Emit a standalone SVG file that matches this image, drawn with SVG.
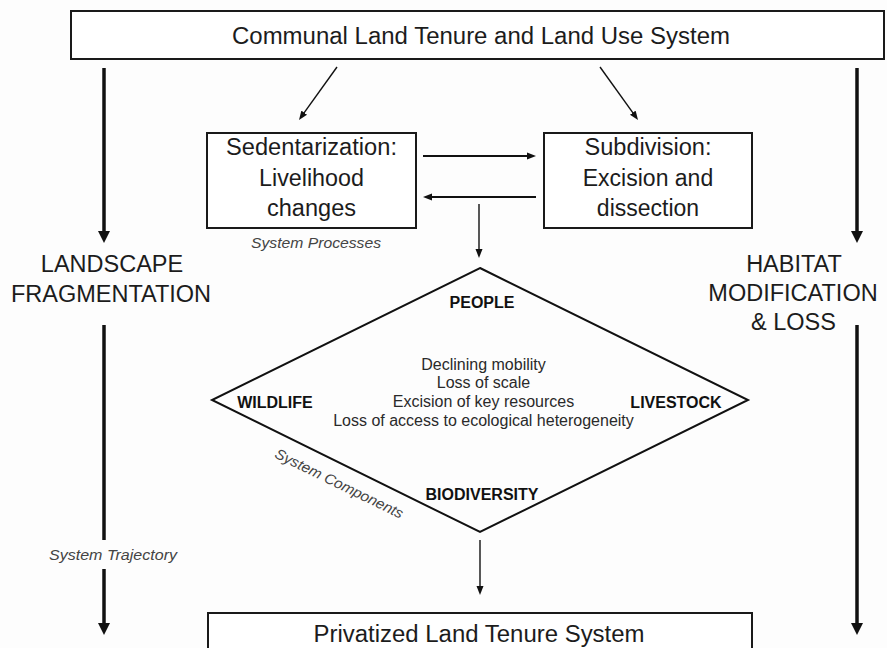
<svg xmlns="http://www.w3.org/2000/svg" width="887" height="648" viewBox="0 0 887 648">
<style>
.box{fill:#fff;stroke:#1a1a1a;stroke-width:2}
.t{font-family:"Liberation Sans",Arial,sans-serif;fill:#1c1c1c;text-anchor:middle}
.big{font-size:23px}
.side{font-size:23.5px}
.lab{font-size:16px;font-weight:bold;fill:#111}
.mid{font-size:16px;fill:#2a2a2a}
.it{font-size:14.5px;font-style:italic;fill:#444}
.thick{stroke:#111;stroke-width:3.5;fill:none}
.thin{stroke:#111;stroke-width:1.4;fill:none}
.med{stroke:#111;stroke-width:2;fill:none}
</style>
<defs>
<marker id="ah" markerUnits="userSpaceOnUse" markerWidth="12" markerHeight="12" viewBox="0 0 12 12" refX="4" refY="6" orient="auto"><path d="M0,0 L12,6 L0,12 z" fill="#111"/></marker>
<marker id="as" markerUnits="userSpaceOnUse" markerWidth="9" markerHeight="8" viewBox="0 0 9 8" refX="4" refY="4" orient="auto"><path d="M0,0.5 L9,4 L0,7.5 z" fill="#111"/></marker>
</defs>
<rect width="887" height="648" fill="#fdfdfd"/>

<g id="top">
<rect class="box" x="71" y="11" width="813" height="48"/>
<text class="t big" x="481" y="44" textLength="498" lengthAdjust="spacingAndGlyphs">Communal Land Tenure and Land Use System</text>
</g>

<g id="sedentarization">
<rect class="box" x="207" y="133" width="209" height="95"/>
<text class="t big" x="311.5" y="155" textLength="171" lengthAdjust="spacingAndGlyphs">Sedentarization:</text>
<text class="t big" x="311.5" y="186" textLength="105" lengthAdjust="spacingAndGlyphs">Livelihood</text>
<text class="t big" x="311.5" y="216" textLength="89" lengthAdjust="spacingAndGlyphs">changes</text>
</g>

<g id="subdivision">
<rect class="box" x="544" y="133" width="208" height="95"/>
<text class="t big" x="648" y="155" textLength="127" lengthAdjust="spacingAndGlyphs">Subdivision:</text>
<text class="t big" x="648" y="186">Excision and</text>
<text class="t big" x="648" y="216">dissection</text>
</g>

<g id="system-processes">
<text class="t it" x="316" y="248" textLength="130" lengthAdjust="spacingAndGlyphs">System Processes</text>
</g>

<g id="landscape">
<text class="t side" x="112" y="272">LANDSCAPE</text>
<text class="t side" x="111" y="302">FRAGMENTATION</text>
</g>

<g id="habitat">
<text class="t side" x="794" y="272">HABITAT</text>
<text class="t side" x="793" y="301">MODIFICATION</text>
<text class="t side" x="793.5" y="330">&amp; LOSS</text>
</g>

<g id="components">
<path d="M480,268 L748,400 L480,532 L212,400 Z" fill="none" stroke="#111" stroke-width="2"/>
<text class="t lab" x="482" y="308">PEOPLE</text>
<text class="t lab" x="275" y="408">WILDLIFE</text>
<text class="t lab" x="676" y="408">LIVESTOCK</text>
<text class="t lab" x="482" y="500">BIODIVERSITY</text>
<text class="t mid" x="483.5" y="370">Declining mobility</text>
<text class="t mid" x="483.5" y="388">Loss of scale</text>
<text class="t mid" x="483.5" y="407">Excision of key resources</text>
<text class="t mid" x="483.5" y="426">Loss of access to ecological heterogeneity</text>
<text class="t it" x="0" y="0" transform="translate(337,488) rotate(26)" textLength="141" lengthAdjust="spacingAndGlyphs">System Components</text>
</g>

<g id="trajectory">
<text class="t it" x="113" y="560" textLength="128" lengthAdjust="spacingAndGlyphs">System Trajectory</text>
</g>

<g id="bottom">
<rect class="box" x="208" y="613" width="544" height="40"/>
<text class="t big" x="479" y="642" textLength="331" lengthAdjust="spacingAndGlyphs">Privatized Land Tenure System</text>
</g>

<g id="connectors">
<line class="thick" x1="104" y1="68" x2="104" y2="235" marker-end="url(#ah)"/>
<line class="thick" x1="104" y1="325" x2="104" y2="540"/>
<line class="thick" x1="104" y1="569" x2="104" y2="627" marker-end="url(#ah)"/>
<line class="thick" x1="857" y1="68" x2="857" y2="235" marker-end="url(#ah)"/>
<line class="thick" x1="857" y1="325" x2="857" y2="627" marker-end="url(#ah)"/>
<line class="thin" x1="337" y1="67" x2="301.9" y2="115.9" marker-end="url(#as)"/>
<line class="thin" x1="600" y1="67" x2="635.1" y2="115.9" marker-end="url(#as)"/>
<line class="med" x1="423" y1="156" x2="531" y2="156" marker-end="url(#as)"/>
<line class="med" x1="536" y1="197" x2="428" y2="197" marker-end="url(#as)"/>
<line class="thin" x1="479" y1="204" x2="479" y2="253" marker-end="url(#as)"/>
<line class="thin" x1="480" y1="540" x2="480" y2="590" marker-end="url(#as)"/>
</g>
</svg>
